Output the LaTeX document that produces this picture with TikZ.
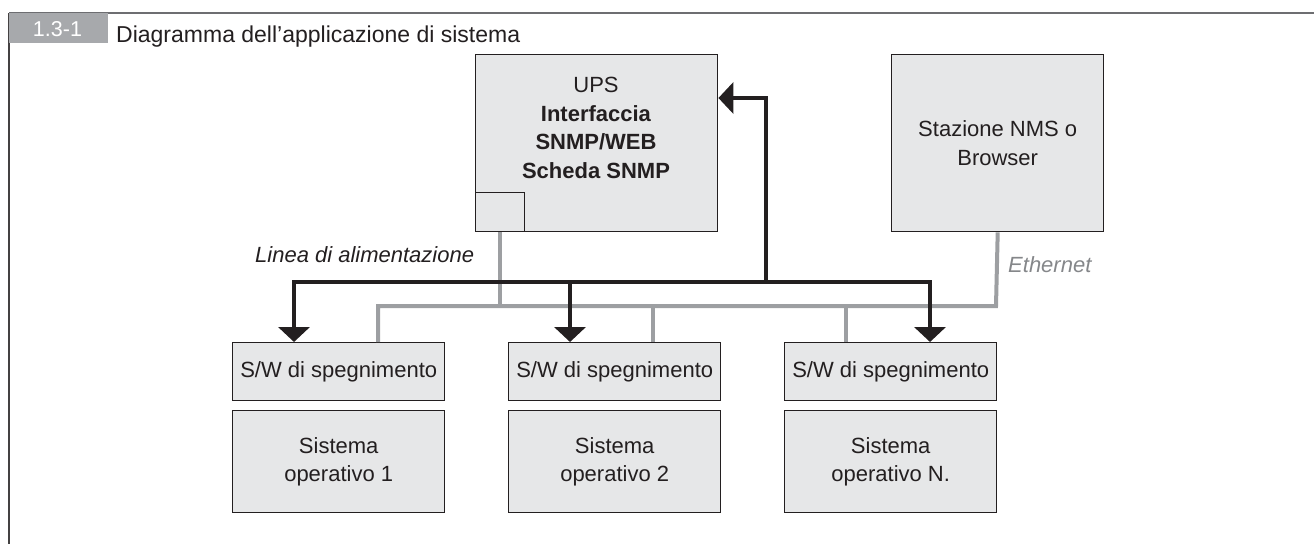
\documentclass[tikz,border=0pt]{standalone}
\usepackage{fontspec}
\setmainfont{Liberation Sans}
\usetikzlibrary{arrows.meta}
\definecolor{boxfill}{HTML}{E6E7E8}
\definecolor{ink}{HTML}{231F20}
\definecolor{ethgray}{HTML}{9D9FA2}
\definecolor{tabgray}{HTML}{A7A9AC}
\definecolor{framegray}{HTML}{6D6E71}
\begin{document}
\begin{tikzpicture}[x=1pt,y=-1pt,
  box/.style={draw=ink, line width=1.4pt, fill=boxfill, inner sep=0pt, anchor=north west},
  txt/.style={font=\fontsize{22}{28.5}\selectfont, text=ink, align=center, inner sep=0pt},
  lbl/.style={font=\fontsize{22}{26}\selectfont\itshape, inner sep=0pt, anchor=base west},
  eth/.style={draw=ethgray, line width=4pt},
  pwr/.style={draw=ink, line width=4.5pt, line join=miter},
  tri/.tip={Triangle[width=31pt,length=15pt]}
]
\useasboundingbox (0,0) rectangle (1314,544);
% frame
\draw[framegray, line width=1.5pt] (9,13) -- (1314,13);
\draw[ink!85, line width=1.5pt] (9,13) -- (9,544);
\node[fill=tabgray, minimum width=99pt, minimum height=30pt, inner sep=0pt, anchor=north west] (tab) at (9,13) {};
\node[inner sep=0pt, anchor=base, text=white, font=\fontsize{21.5}{24}\selectfont] (tabl) at (57.5,36) {1.3-1};
\node[inner sep=0pt, anchor=base west, text=ink, font=\fontsize{23}{28}\selectfont] (title) at (116,42.5)
  {Diagramma dell'applicazione di sistema};

% boxes
\node[box, minimum width=242pt, minimum height=177pt] (ups) at (475,54) {};
\node[box, minimum width=49pt, minimum height=39pt] (port) at (475,192) {};
\node[txt] (upsl) at (596,128) {UPS\\\textbf{Interfaccia}\\\textbf{SNMP/WEB}\\\textbf{Scheda SNMP}};
\node[box, minimum width=212pt, minimum height=177pt] (nms) at (891,54) {};
\node[txt] (nmsl) at (nms.center) {Stazione NMS o\\Browser};

\node[box, minimum width=212pt, minimum height=58pt] (sw1) at (232,342) {};
\node[box, minimum width=212pt, minimum height=58pt] (sw2) at (508,342) {};
\node[box, minimum width=212pt, minimum height=58pt] (sw3) at (784,342) {};
\node[txt] (sw1l) at (sw1.center) {S/W di spegnimento};
\node[txt] (sw2l) at (sw2.center) {S/W di spegnimento};
\node[txt] (sw3l) at (sw3.center) {S/W di spegnimento};

\node[box, minimum width=212pt, minimum height=102pt] (os1) at (232,410) {};
\node[box, minimum width=212pt, minimum height=102pt] (os2) at (508,410) {};
\node[box, minimum width=212pt, minimum height=102pt] (os3) at (784,410) {};
\node[txt] (os1l) at (os1.center) {Sistema\\operativo 1};
\node[txt] (os2l) at (os2.center) {Sistema\\operativo 2};
\node[txt] (os3l) at (os3.center) {Sistema\\operativo N.};

% labels
\node[lbl, text=ink] (power) at (255,262) {Linea di alimentazione};
\node[lbl, text=ethgray!85!black] (ethl) at (1008,272) {Ethernet};

% ethernet
\coordinate (ebL) at (378,306);
\coordinate (ebR) at (996,306);
\coordinate (e2) at (653,306);
\coordinate (e3) at (846,306);
\draw[eth] (port.south) -- (port.south |- ebL);
\draw[eth, line join=miter] (nms.south) -- (ebR) -- (ebL) -- (ebL |- sw1.north);
\draw[eth] (e2) -- (e2 |- sw2.north);
\draw[eth] (e3) -- (e3 |- sw3.north);

% power
\coordinate (pL) at (294,282);
\coordinate (pM) at (570,282);
\coordinate (pR) at (930,282);
\coordinate (pU) at (766,282);
\coordinate (pT) at (766,98);
\draw[pwr, tri-tri] (pL |- sw1.north) -- (pL) -- (pR) -- (pR |- sw3.north);
\draw[pwr, -tri] (pM) -- (pM |- sw2.north);
\draw[pwr, -tri] (pU) -- (pT) -- (ups.east |- pT);
\end{tikzpicture}
\end{document}
